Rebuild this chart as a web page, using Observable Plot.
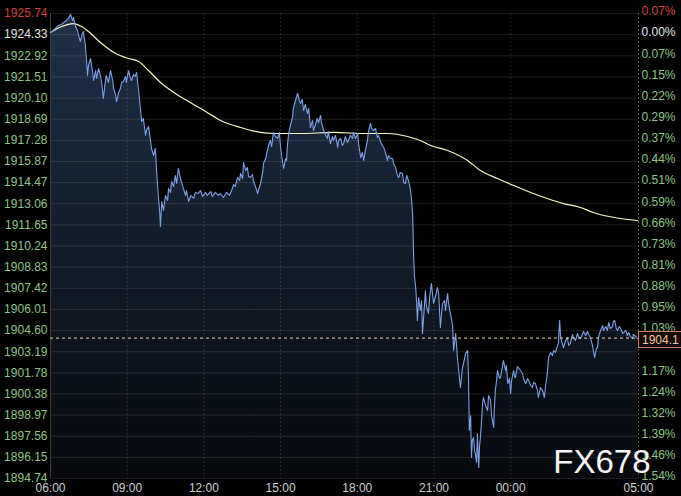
<!DOCTYPE html>
<html>
<head>
<meta charset="utf-8">
<script src="https://cdn.jsdelivr.net/npm/d3@7"></script>
<script src="https://cdn.jsdelivr.net/npm/@observablehq/plot@0.6"></script>
<style>
  html, body { margin: 0; padding: 0; background: #000; }
  #chart { width: 681px; height: 496px; overflow: hidden; }
</style>
</head>
<body>
<div id="chart"></div>
<script>
// ---- data (minutes since 06:00, price) ----
const priceMinutes = [0,7,14,19,26,31,35,42,47,52,54,59,63,70,75,77,82,87,89,94,99,101,106,108,113,117,120,124,129,131,136,141,146,148,153,155,160,164,167,171,176,178,183,188,190,195,199,202,207,211,214,218,223,225,230,235,237,242,246,249,253,256,258,261,265,270,275,277,282,284,289,293,296,300,305,307,312,317,319,324,329,336,340,347,352,357,364,368,376,380,387,394,399,406,413,420,425,430,434,439,444,446,451,453,458,462,465,469,474,476,481,486,488,493,498,500,505,509,512,516,519,523,528,533,537,540,544,547,552,554,556,559,563,568,570,575,577,580,584,587,591,594,598,603,606,610,615,617,622,626,629,634,636,641,645,650,652,657,662,664,669,674,676,681,685,688,692,697,699,704,709,711,716,721,723,728,732,735,739,744,746,751,754,758,763,767,770,775,779,782,786,791,793,798,803,805,810,814,817,821,826,829,833,836,840,843,845,847,850,852,854,857,859,861,864,868,871,873,876,880,882,887,890,894,897,899,904,908,911,915,918,920,925,927,932,934,937,941,944,946,951,953,955,958,962,965,967,972,974,979,981,983,986,988,990,993,995,997,1000,1002,1005,1007,1009,1012,1014,1016,1021,1026,1028,1033,1035,1040,1042,1044,1047,1049,1054,1056,1061,1063,1068,1070,1073,1077,1080,1082,1087,1089,1091,1096,1098,1103,1108,1110,1115,1120,1122,1127,1131,1134,1138,1143,1145,1150,1155,1159,1162,1166,1169,1174,1178,1181,1185,1190,1192,1195,1197,1199,1204,1209,1213,1216,1220,1225,1227,1232,1237,1239,1244,1249,1251,1256,1260,1263,1267,1272,1274,1277,1281,1284,1286,1291,1296,1298,1303,1307,1310,1314,1319,1321,1324,1328,1331,1335,1338,1343,1345,1350,1354,1357,1361,1366,1368,1373,1378];
const priceValues = [1924.47,1924.61,1924.81,1924.94,1925.01,1925.14,1925.21,1925.41,1925.67,1925.27,1925.47,1924.87,1924.61,1923.87,1924.41,1924.54,1923.61,1921.61,1922.27,1922.74,1921.81,1921.27,1921.94,1921.41,1922.07,1921.61,1921.14,1920.07,1921.27,1921.61,1921.14,1921.94,1921.27,1920.74,1920.27,1919.87,1920.47,1920.74,1921.14,1921.21,1921.54,1921.14,1921.94,1921.41,1921.27,1921.67,1921.54,1921.81,1920.54,1919.41,1918.54,1918.74,1917.61,1917.94,1918.21,1917.21,1916.74,1916.27,1916.74,1915.21,1913.61,1912.61,1911.54,1913.21,1912.61,1913.61,1913.27,1914.07,1913.81,1914.54,1914.21,1914.94,1914.41,1915.41,1914.74,1914.54,1914.07,1913.61,1913.94,1913.21,1913.61,1913.41,1913.81,1913.74,1913.94,1913.54,1913.81,1913.61,1913.87,1913.54,1913.81,1913.61,1913.74,1913.47,1913.81,1913.61,1913.94,1914.34,1914.21,1914.81,1914.61,1915.07,1914.74,1915.81,1915.27,1915.47,1914.87,1914.81,1915.01,1914.61,1914.21,1913.74,1913.94,1914.41,1915.14,1915.74,1916.07,1916.61,1916.94,1917.27,1916.87,1917.81,1917.54,1917.41,1917.81,1916.81,1915.94,1915.41,1916.07,1915.94,1916.94,1917.74,1918.27,1918.81,1919.41,1919.94,1920.14,1920.41,1919.94,1919.74,1920.01,1919.27,1919.67,1919.07,1919.41,1918.14,1918.61,1917.94,1918.34,1918.74,1918.47,1918.94,1918.47,1917.94,1917.67,1917.41,1917.87,1917.07,1917.54,1917.27,1917.61,1916.81,1917.27,1917.41,1916.94,1917.07,1917.54,1917.14,1917.27,1917.61,1917.41,1917.81,1917.41,1917.74,1917.07,1916.14,1916.47,1915.94,1916.61,1917.27,1917.81,1918.41,1918.07,1917.94,1918.07,1917.47,1917.61,1917.14,1916.94,1916.81,1916.47,1915.94,1916.27,1916.07,1916.07,1915.74,1915.47,1914.94,1914.81,1915.14,1915.07,1914.47,1914.41,1914.94,1914.61,1914.27,1913.94,1913.47,1912.27,1909.74,1908.27,1907.47,1906.61,1905.27,1906.81,1905.94,1906.61,1904.41,1905.61,1907.27,1906.27,1905.74,1906.87,1907.74,1906.94,1906.41,1906.94,1907.47,1907.07,1904.81,1905.81,1906.41,1906.61,1905.94,1907.07,1906.47,1905.94,1905.41,1904.81,1903.27,1904.41,1903.61,1902.81,1901.94,1900.81,1901.61,1902.14,1902.74,1903.07,1903.27,1901.47,1897.94,1898.94,1896.14,1897.27,1897.47,1896.61,1896.41,1895.81,1897.74,1895.47,1896.94,1897.47,1898.74,1899.74,1900.14,1899.61,1899.27,1900.27,1899.94,1898.94,1898.14,1899.61,1900.61,1901.27,1901.94,1901.41,1901.47,1902.27,1902.61,1901.94,1902.27,1901.07,1901.41,1900.41,1901.27,1901.94,1901.54,1901.47,1902.21,1902.14,1901.94,1901.74,1901.41,1901.07,1901.41,1901.27,1900.94,1900.81,1901.14,1901.07,1900.61,1900.14,1900.81,1900.61,1900.14,1900.94,1901.74,1902.81,1903.14,1902.94,1903.27,1903.14,1903.61,1903.74,1905.27,1904.27,1903.94,1903.47,1903.94,1904.14,1903.61,1903.74,1904.34,1904.14,1903.94,1904.41,1904.21,1904.07,1904.41,1904.54,1904.27,1904.54,1904.34,1904.14,1903.61,1903.27,1902.81,1903.41,1903.47,1904.14,1904.61,1904.94,1904.61,1904.87,1904.61,1905.14,1904.74,1904.87,1905.21,1905.27,1904.74,1904.61,1904.87,1904.74,1904.41,1904.47,1904.61,1904.27,1904.47,1904.21,1904.07,1904.34,1904.21,1904.07];

const maMinutes = [0,26,54,73,89,120,153,183,207,230,261,293,324,364,399,446,493,523,587,664,744,791,838,868,892,932,979,1009,1049,1087,1127,1166,1204,1244,1274,1378];
const maValues = [1924.47,1924.87,1925.07,1924.87,1924.54,1923.74,1923.07,1922.74,1922.54,1921.94,1921.07,1920.41,1919.87,1919.21,1918.61,1918.14,1917.81,1917.74,1917.74,1917.81,1917.74,1917.74,1917.54,1917.27,1916.94,1916.61,1915.94,1915.27,1914.74,1914.27,1913.81,1913.41,1913.07,1912.81,1912.47,1911.94];

const lastPrice = 1904.1;
const lastPriceLabel = "1904.1";

const yTickLabels = ["1925.74","1924.33","1922.92","1921.51","1920.10","1918.69","1917.28","1915.87","1914.47","1913.06","1911.65","1910.24","1908.83","1907.42","1906.01","1904.60","1903.19","1901.78","1900.38","1898.97","1897.56","1896.15","1894.74"];
const pctLabels = ["0.07%","0.00%","0.07%","0.15%","0.22%","0.29%","0.37%","0.44%","0.51%","0.59%","0.66%","0.73%","0.81%","0.88%","0.95%","1.03%","1.10%","1.17%","1.24%","1.32%","1.39%","1.46%","1.54%"];
const xTickMinutes = [0,180,360,540,720,900,1080,1380];
const xTickLabels = ["06:00","09:00","12:00","15:00","18:00","21:00","00:00","05:00"];
const watermark = "FX678";

// ---- build tables ----
const series = priceMinutes.map((m, i) => ({m, p: priceValues[i]}));
const ma = maMinutes.map((m, i) => ({m, p: maValues[i]}));
const yTicks = yTickLabels.map((s, i) => ({v: +s, label: s, pct: pctLabels[i], i}));
const xTicks = xTickMinutes.map((m, i) => ({m, label: xTickLabels[i]}));
const yMin = +yTickLabels[yTickLabels.length - 1];
const yMax = +yTickLabels[0];
const xEnd = xTickMinutes[xTickMinutes.length - 1];

const labelColor = (d) => d.i === 0 ? "#d0403c" : d.i === 1 ? "#e4e4e4" : "#8ec486";
// the 1.10% row is covered by the price tag in the reference
const pctShown = yTicks.filter(d => d.pct !== "1.10%");

const font = "'Liberation Sans', Arial, sans-serif";
const svgNS = "http://www.w3.org/2000/svg";

const priceTag = (index, scales) => {
  const y = Math.round(scales.y(lastPrice));
  const x0 = scales.x(xEnd);
  const g = document.createElementNS(svgNS, "g");
  const r = document.createElementNS(svgNS, "rect");
  r.setAttribute("x", x0 + 0.5);
  r.setAttribute("y", y - 6.5);
  r.setAttribute("width", 46);
  r.setAttribute("height", 16);
  r.setAttribute("fill", "#120a06");
  r.setAttribute("stroke", "#c9805c");
  g.appendChild(r);
  const t = document.createElementNS(svgNS, "text");
  t.setAttribute("x", x0 + 4);
  t.setAttribute("y", y + 2);
  t.setAttribute("dy", "0.36em");
  t.setAttribute("text-anchor", "start");
  t.setAttribute("fill", "#f2c6a6");
  t.setAttribute("font-size", "12");
  t.setAttribute("font-family", font);
  t.textContent = lastPriceLabel;
  g.appendChild(t);
  return g;
};

const chart = Plot.plot({
  width: 681,
  height: 496,
  marginLeft: 50,
  marginRight: 43,
  marginTop: 13,
  marginBottom: 18,
  style: {background: "#000", fontFamily: font, fontSize: "12px", overflow: "visible"},
  x: {domain: [0, xEnd], axis: null},
  y: {domain: [yMin, yMax], axis: null},
  marks: [
    Plot.areaY(series, {x: "m", y1: () => yMin, y2: "p", fill: "url(#areaGrad)"}),
    Plot.ruleY(yTicks, {y: "v", stroke: "#ffffff", strokeOpacity: 0.11}),
    Plot.ruleX(xTicks.slice(1, -1), {x: "m", stroke: "#ffffff", strokeOpacity: 0.13, strokeDasharray: "2,2"}),
    Plot.ruleX([0], {stroke: "#3c3c3c"}),
    Plot.ruleX([xEnd], {stroke: "#555", strokeDasharray: "2,2"}),
    Plot.line(ma, {x: "m", y: "p", stroke: "#f7f3c4", strokeWidth: 1.2, curve: "monotone-x"}),
    Plot.line(series, {x: "m", y: "p", stroke: "#7d9fe6", strokeWidth: 1.1}),
    Plot.ruleY([lastPrice], {stroke: "#f0d2aa", strokeDasharray: "3,3", strokeWidth: 1}),
    Plot.text(yTicks, {y: "v", text: "label", frameAnchor: "left", textAnchor: "end", dx: -3, fill: labelColor, fontSize: 12}),
    Plot.text(pctShown, {y: "v", text: "pct", frameAnchor: "right", textAnchor: "start", dx: 3, dy: -2, fill: labelColor, fontSize: 12}),
    Plot.text(xTicks, {x: "m", text: "label", frameAnchor: "bottom", lineAnchor: "top", dy: 5, fill: "#cfcfcf", fontSize: 12}),
    Plot.text([watermark], {frameAnchor: "bottom-right", textAnchor: "end", lineAnchor: "bottom", dx: 12, dy: -6, fill: "#f4f4f4", fontSize: 33, fontWeight: 400}),
    priceTag
  ]
});

const defs = document.createElementNS(svgNS, "defs");
defs.innerHTML = `<linearGradient id="areaGrad" gradientUnits="userSpaceOnUse" x1="0" y1="13" x2="0" y2="478">
  <stop offset="0" stop-color="#1f3048"/>
  <stop offset="0.5" stop-color="#121c2a"/>
  <stop offset="1" stop-color="#07090d"/>
</linearGradient>`;
chart.insertBefore(defs, chart.firstChild);
document.getElementById("chart").appendChild(chart);
</script>
</body>
</html>
